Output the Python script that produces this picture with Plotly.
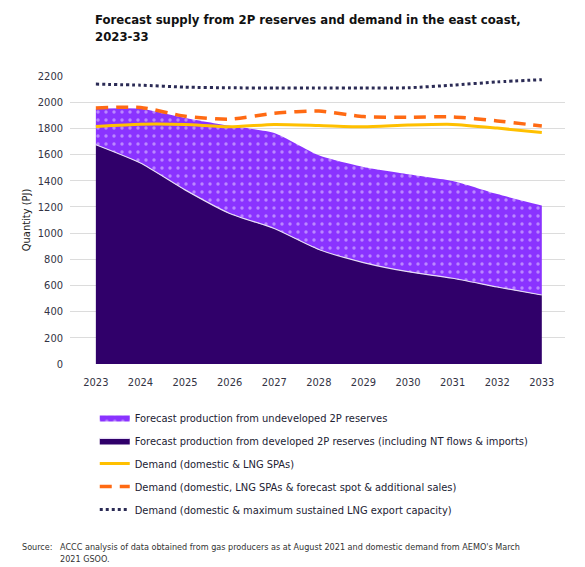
import plotly.graph_objects as go

years = [2023, 2024, 2025, 2026, 2027, 2028, 2029, 2030, 2031, 2032, 2033]
developed = [1675, 1535, 1330, 1150, 1035, 875, 775, 705, 655, 588, 527]
undeveloped = [275, 415, 550, 670, 730, 720, 730, 745, 743, 710, 683]
demand_spa = [1815, 1832, 1830, 1812, 1830, 1822, 1812, 1825, 1830, 1802, 1768]
demand_spot = [1955, 1960, 1893, 1870, 1916, 1932, 1890, 1885, 1888, 1857, 1818]
demand_max = [2138, 2130, 2115, 2110, 2108, 2108, 2108, 2110, 2130, 2155, 2172]
y_ticks = [0, 200, 400, 600, 800, 1000, 1200, 1400, 1600, 1800, 2000, 2200]

FONT = "DejaVu Sans Condensed, Liberation Sans Narrow, Liberation Sans, Arial"

fig = go.Figure()
fig.add_trace(go.Scatter(
    x=years, y=developed, stackgroup="supply", mode="lines",
    line=dict(color="#E6DDF5", width=1.2, shape="spline", smoothing=0.6),
    fillcolor="#30006A",
    name="Forecast production from developed 2P reserves (including NT flows & imports)",
    legendrank=2, legendgroup="b"))
fig.add_trace(go.Scatter(
    x=years, y=undeveloped, stackgroup="supply", mode="lines",
    line=dict(color="#8A33FF", width=0, shape="spline", smoothing=0.6),
    fillcolor="#8A33FF",
    fillpattern=dict(shape=".", fgcolor="#EADCFF", bgcolor="#8A33FF", size=8, solidity=0.14),
    name="Forecast production from undeveloped 2P reserves",
    legendrank=1, legendgroup="a"))
fig.add_trace(go.Scatter(
    x=years, y=demand_spa, mode="lines",
    line=dict(color="#FFC000", width=3, shape="spline", smoothing=0.6),
    name="Demand (domestic & LNG SPAs)", legendrank=3, legendgroup="c"))
fig.add_trace(go.Scatter(
    x=years, y=demand_spot, mode="lines",
    line=dict(color="#FF6A13", width=3.5, dash="12px,8px", shape="spline", smoothing=0.6),
    name="Demand (domestic, LNG SPAs & forecast spot & additional sales)", legendrank=4, legendgroup="d"))
fig.add_trace(go.Scatter(
    x=years, y=demand_max, mode="lines",
    line=dict(color="#2B2B55", width=3, dash="dot", shape="spline", smoothing=0.6),
    name="Demand (domestic & maximum sustained LNG export capacity)", legendrank=5, legendgroup="e"))

W, H = 577, 559
fig.update_layout(
    width=W, height=H,
    margin=dict(l=62, r=20, t=68, b=203),
    paper_bgcolor="white", plot_bgcolor="white",
    font=dict(family=FONT, size=11, color="#333333"),
    xaxis=dict(range=[2022.42, 2033.52], tickmode="array", tickvals=years,
               ticktext=[str(y) for y in years], showgrid=False, zeroline=False,
               showline=False, ticks="", ticklabelstandoff=10,
               tickfont=dict(size=11, color="#333344")),
    yaxis=dict(range=[0, 2200], tickmode="array", tickvals=y_ticks,
               showgrid=True, gridcolor="#DCDCDC", gridwidth=1, zeroline=False,
               ticks="", ticklabelstandoff=6, tickfont=dict(size=11, color="#333344"),
               title=dict(text="Quantity (PJ)", font=dict(size=11, color="#222222"), standoff=4)),
    showlegend=True,
    legend=dict(x=0.05, xanchor="left", y=-0.135, yanchor="top", orientation="v",
                tracegroupgap=4, font=dict(size=11, color="#222233"),
                bgcolor="rgba(0,0,0,0)"),
    annotations=[
        dict(text="<b>Forecast supply from 2P reserves and demand in the east coast,<br>2023-33</b>",
             x=(85 - 62) / 495, y=1 + 66 / 288, xref="paper", yref="paper",
             xanchor="left", yanchor="top", showarrow=False, align="left",
             font=dict(size=13, color="#111111")),
        dict(text="Source:", x=-0.101, y=-0.611, xref="paper", yref="paper",
             xanchor="left", yanchor="top", showarrow=False, align="left",
             font=dict(size=9, color="#333333")),
        dict(text="ACCC analysis of data obtained from gas producers as at August 2021 and domestic demand from AEMO's March<br>2021 GSOO.",
             x=-0.025, y=-0.611, xref="paper", yref="paper",
             xanchor="left", yanchor="top", showarrow=False, align="left",
             font=dict(size=9, color="#333333")),
    ],
)

fig.write_html("out.html")
